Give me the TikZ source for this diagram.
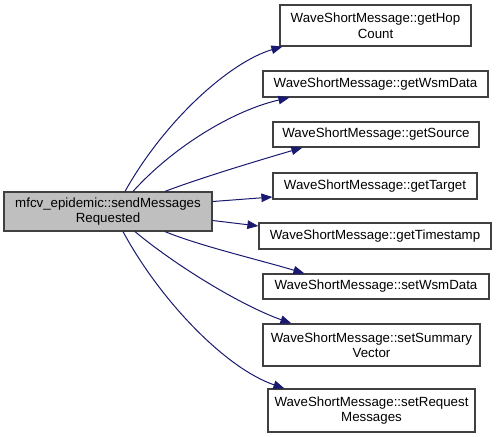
\documentclass[tikz,border=0pt]{standalone}
\usepackage{fontspec}
\setmainfont{Liberation Sans}
\usetikzlibrary{arrows.meta}
\definecolor{edgecol}{HTML}{191970}
\definecolor{boxline}{HTML}{404040}
\definecolor{srcfill}{HTML}{BFBFBF}
\begin{document}
\begin{tikzpicture}[x=1pt,y=-1pt,
  box/.style={draw=boxline,line width=1.2pt,fill=white,rectangle,inner sep=0pt,align=center,
    font=\fontsize{13.3}{15.5}\selectfont,text=black},
  call/.style={draw=edgecol,line width=1pt,-{Triangle[length=11pt,width=8.5pt]},color=edgecol}]
\useasboundingbox (0,0) rectangle (496,437);
\node[box,fill=srcfill,minimum width=208pt,minimum height=39pt] (src) at (108,211.5) {mfcv\_epidemic::sendMessages\\Requested};
\node[box,minimum width=191pt,minimum height=41pt] (n1) at (375.5,25.5) {WaveShortMessage::getHop\\Count};
\node[box,minimum width=225pt,minimum height=26pt] (n2) at (375.5,84) {WaveShortMessage::getWsmData};
\node[box,minimum width=206pt,minimum height=25pt] (n3) at (376,134.5) {WaveShortMessage::getSource};
\node[box,minimum width=204pt,minimum height=26pt] (n4) at (375,186) {WaveShortMessage::getTarget};
\node[box,minimum width=232pt,minimum height=26pt] (n5) at (375,236) {WaveShortMessage::getTimestamp};
\node[box,minimum width=226pt,minimum height=25pt] (n6) at (376,286.5) {WaveShortMessage::setWsmData};
\node[box,minimum width=217pt,minimum height=42pt] (n7) at (371.5,345) {WaveShortMessage::setSummary\\Vector};
\node[box,minimum width=207pt,minimum height=43pt] (n8) at (371.5,410.5) {WaveShortMessage::setRequest\\Messages};

\draw[call] ([xshift=17pt]src.north) .. controls (165,120) and (230,62) .. ([xshift=3pt]n1.south west);
\draw[call] ([xshift=25pt]src.north) .. controls (175,145) and (235,110) .. ([xshift=27pt]n2.south west);
\draw[call] ([xshift=57pt]src.north) .. controls (200,178) and (260,160) .. ([xshift=30pt]n3.south west);
\draw[call] ([yshift=10pt]src.east) -- ([yshift=-11pt]n4.west);
\draw[call] ([yshift=-9pt]src.east) -- ([yshift=10pt]n5.west);
\draw[call] ([xshift=57pt]src.south) .. controls (200,246) and (260,260) .. ([xshift=42pt]n6.north west);
\draw[call] ([xshift=27pt]src.south) .. controls (175,265) and (240,305) .. ([xshift=29pt]n7.north west);
\draw[call] ([xshift=15pt]src.south) .. controls (160,300) and (225,368) .. ([xshift=17pt]n8.north west);
\end{tikzpicture}
\end{document}
